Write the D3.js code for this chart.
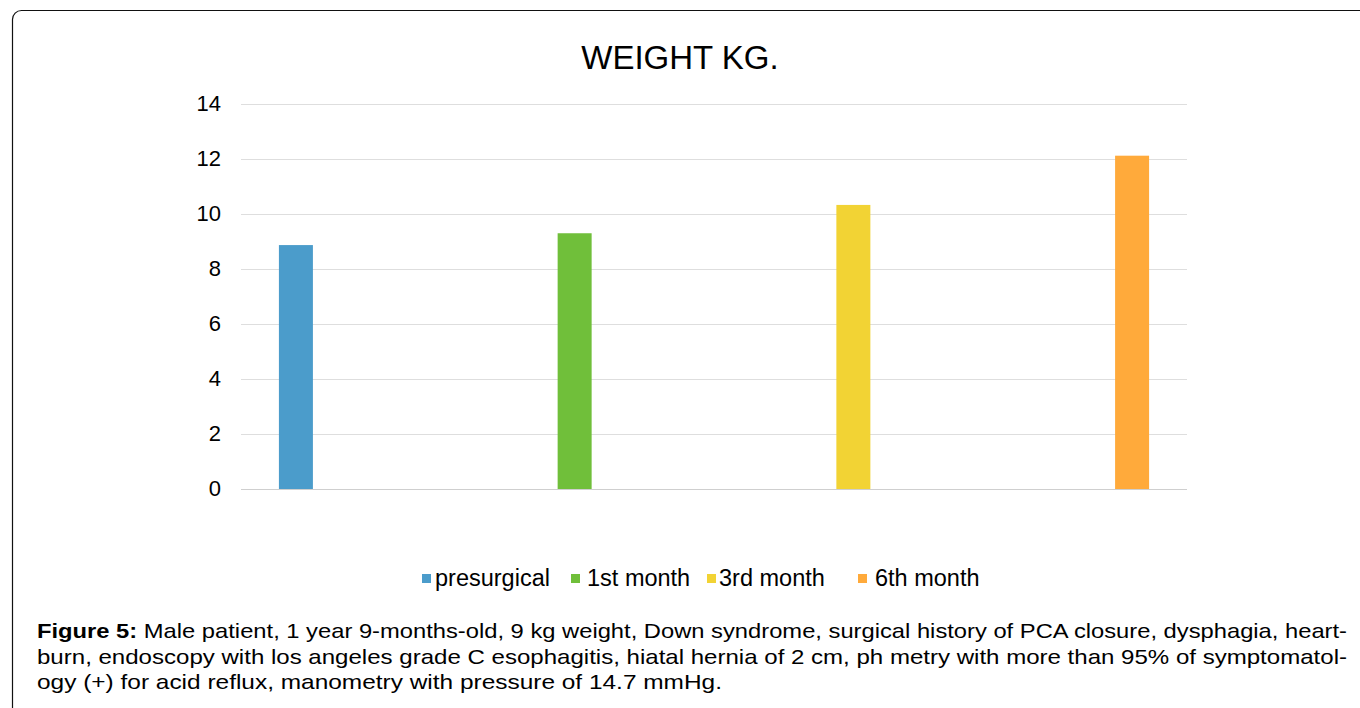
<!DOCTYPE html>
<html>
<head>
<meta charset="utf-8">
<script src="https://cdn.jsdelivr.net/npm/d3@7"></script>
<style>
  body { margin: 0; background: #fff; }
  svg { display: block; font-family: "Liberation Sans", Arial, sans-serif; }
</style>
</head>
<body>
<svg id="chart" width="1360" height="708"></svg>
<script>
// chart data
var series = ["presurgical", "1st month", "3rd month", "6th month"];
var values = [8.87, 9.3, 10.33, 12.12];
var colors = ["#4b9ccb", "#70bf3a", "#f2d334", "#ffaa3b"];
var yTicks = [0, 2, 4, 6, 8, 10, 12, 14];
var captionLines = [
  "Male patient, 1 year 9-months-old, 9 kg weight, Down syndrome, surgical history of PCA closure, dysphagia, heart-",
  "burn, endoscopy with los angeles grade C esophagitis, hiatal hernia of 2 cm, ph metry with more than 95% of symptomatol-",
  "ogy (+) for acid reflux, manometry with pressure of 14.7 mmHg."
];
var captionWidths = [1310, 1310, 685];

var svg = d3.select("#chart");

// outer frame (rounded, runs off the page)
svg.append("rect")
    .attr("x", 12.5).attr("y", 10.5)
    .attr("width", 1500).attr("height", 900)
    .attr("rx", 9)
    .attr("fill", "none")
    .attr("stroke", "#111")
    .attr("stroke-width", 1.2);

var margin = {left: 241, right: 1187, top: 104, bottom: 489};

var x = d3.scalePoint()
    .domain(series)
    .range([margin.left, margin.right])
    .padding(0.197);

var y = d3.scaleLinear()
    .domain([0, 14])
    .range([margin.bottom, margin.top]);

var barW = 34;

// title
svg.append("text")
    .attr("x", 680).attr("y", 69)
    .attr("text-anchor", "middle")
    .style("font-size", "33px")
    .attr("fill", "#000")
    .text("WEIGHT KG.");

// gridlines
svg.append("g").selectAll("line")
    .data(yTicks)
    .enter().append("line")
    .attr("x1", margin.left).attr("x2", margin.right)
    .attr("y1", function(d) { return y(d) + 0.5; })
    .attr("y2", function(d) { return y(d) + 0.5; })
    .attr("stroke", function(d) { return d === 0 ? "#cfcfcf" : "#dedede"; })
    .attr("stroke-width", 1.2);

// y axis labels
var yAxis = d3.axisLeft(y).tickValues(yTicks).tickSize(0).tickPadding(20);
var gy = svg.append("g")
    .attr("transform", "translate(" + margin.left + ",0)")
    .call(yAxis);
gy.select(".domain").remove();
gy.selectAll("text")
    .attr("dy", "0.3em")
    .style("font-size", "22px")
    .style("font-family", "'Liberation Sans', Arial, sans-serif")
    .attr("fill", "#000");

// bars
svg.append("g").selectAll("rect")
    .data(values)
    .enter().append("rect")
    .attr("x", function(d, i) { return x(series[i]) - barW / 2; })
    .attr("y", function(d) { return y(d); })
    .attr("width", barW)
    .attr("height", function(d) { return y(0) - y(d); })
    .attr("fill", function(d, i) { return colors[i]; });

// legend
var legendX = [422, 571, 707, 858];
var legendTextDx = [13, 16, 12, 17];
var legend = svg.append("g").selectAll("g")
    .data(series)
    .enter().append("g")
    .attr("transform", function(d, i) { return "translate(" + legendX[i] + ",574)"; });
legend.append("rect")
    .attr("x", 0).attr("y", 0)
    .attr("width", 9).attr("height", 9)
    .attr("fill", function(d, i) { return colors[i]; });
legend.append("text")
    .attr("x", function(d, i) { return legendTextDx[i]; })
    .attr("y", 12)
    .style("font-size", "23.5px")
    .attr("fill", "#000")
    .text(function(d) { return d; });

// caption (wide face, stretched to the reference line lengths)
var cap = svg.append("g").style("font-size", "21px").attr("fill", "#000");
captionLines.forEach(function(line, i) {
  var t = cap.append("text")
      .attr("x", 37)
      .attr("y", 638 + i * 25.5)
      .attr("textLength", captionWidths[i])
      .attr("lengthAdjust", "spacingAndGlyphs");
  if (i === 0) {
    t.append("tspan").style("font-weight", "bold").text("Figure 5:");
    t.append("tspan").text(" " + line);
  } else {
    t.text(line);
  }
});
</script>
</body>
</html>
